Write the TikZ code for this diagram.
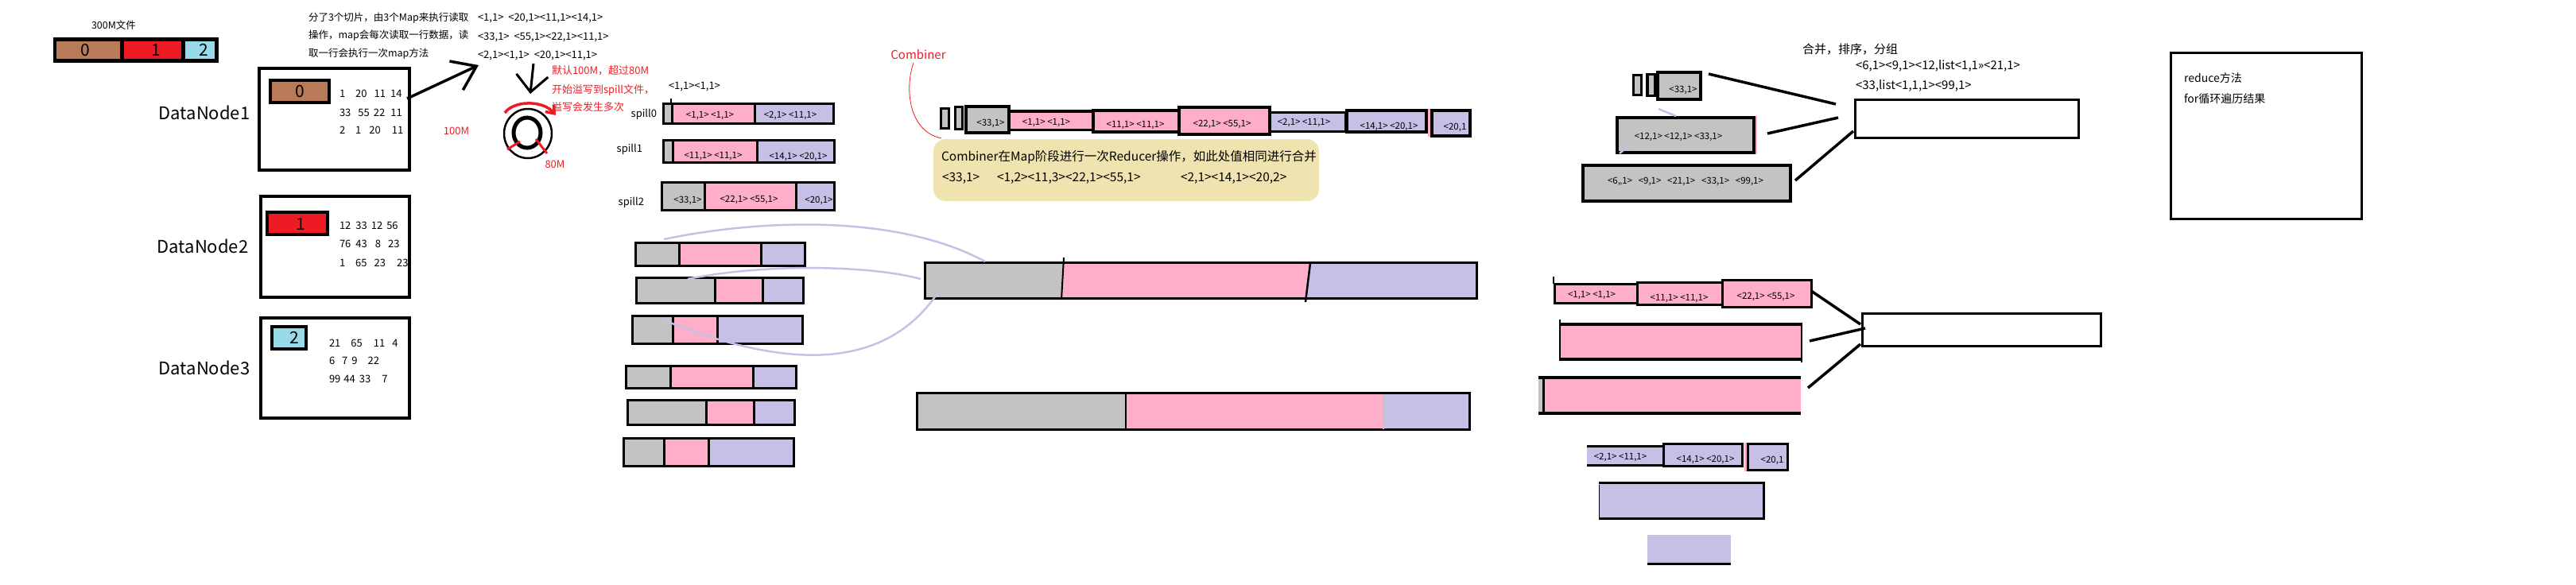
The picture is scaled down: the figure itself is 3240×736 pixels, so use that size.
\documentclass[tikz,border=0pt]{standalone}
\usepackage{fontspec}
\setmainfont{Noto Sans CJK SC}
\usetikzlibrary{fit,arrows.meta}
\definecolor{pbrown}{RGB}{185,122,87}
\definecolor{pred}{RGB}{237,28,36}
\definecolor{pblue}{RGB}{153,217,234}
\definecolor{pgray}{RGB}{195,195,195}
\definecolor{ppink}{RGB}{255,174,201}
\definecolor{plav}{RGB}{200,191,231}
\definecolor{ptan}{RGB}{239,228,176}
\tikzset{
 fs/.style={font=\fontsize{#1pt}{#1pt}\selectfont, inner sep=0pt, outer sep=0pt},
 plain/.style={inner sep=0pt, outer sep=0pt},
 cellbox/.style={draw=black, line width=3pt, inner sep=0pt, outer sep=0pt},
 dnbox/.style={draw=black, line width=4.5pt, inner sep=0pt, outer sep=0pt},
 lavcurve/.style={draw=plav, line width=2.5pt},
 link/.style={draw=black, line width=3.5pt},
 kvt/.style={fs=11.5},
}
\newcommand\cell[7][]{\node[cellbox, fill=#7, fit={(#3,#4) (#5,#6)}, #1] (#2) {};}
\newcommand\area[6]{\node[plain, fill=#6, fit={(#2,#3) (#4,#5)}] (#1) {};}
\begin{document}
\begin{tikzpicture}[x=1pt, y=-1pt]
\useasboundingbox (0,0) rectangle (3240,736);

% ---------- file ----------
\node[fs=12.5] (filelbl) at (143,32) {300M文件};
\area{filebar}{67}{47}{275}{79}{black}
\area{fb0}{71}{52}{151}{74}{pbrown}
\area{fb1}{156}{52}{228}{74}{pred}
\area{fb2}{233}{52}{270}{74}{pblue}
\node[fs=21] (fd0) at (107,63) {0};
\node[fs=21] (fd1) at (196,63) {1};
\node[fs=21] (fd2) at (256,63) {2};

% ---------- intro text ----------
\node[fs=12.5, anchor=west] (intro1) at (388,23) {分了3个切片，由3个Map来执行读取};
\node[fs=12.5, anchor=west] (intro2) at (388,45) {操作，map会每次读取一行数据，读};
\node[fs=12.5, anchor=west] (intro3) at (388,68) {取一行会执行一次map方法};
\node[fs=13, anchor=west] (kv1) at (601,23) {<1,1>\ \ <20,1><11,1><14,1>};
\node[fs=13, anchor=west] (kv2) at (601,47) {<33,1>\ \ <55,1><22,1><11,1>};
\node[fs=13, anchor=west] (kv3) at (601,70) {<2,1><1,1>\ \ <20,1><11,1>};

% ---------- DataNodes ----------
\node[dnbox, fit={(326,86) (515,214)}] (dn1) {};
\cell[line width=4pt]{c0}{340}{101}{414}{129}{pbrown}
\node[fs=21] (c0t) at (377,115) {0};
\node[fs=13, anchor=west] (n11) at (427,118) {1\hspace{13pt}20\hspace{9pt}11\hspace{6pt}14};
\node[fs=13, anchor=west] (n12) at (427,142) {33\hspace{9pt}55\hspace{5pt}22\hspace{7pt}11};
\node[fs=13, anchor=west] (n13) at (427,164) {2\hspace{13pt}1\hspace{10pt}20\hspace{14pt}11};
\node[fs=22] (dnl1) at (257,142) {DataNode1};

\node[dnbox, fit={(328,247) (515,374)}] (dn2) {};
\cell[line width=4pt]{c1}{336}{267}{412}{295}{pred}
\node[fs=21] (c1t) at (378,282) {1};
\node[fs=13, anchor=west] (n21) at (427,284) {12\hspace{6pt}33\hspace{5pt}12\hspace{5pt}56};
\node[fs=13, anchor=west] (n22) at (427,307) {76\hspace{6pt}43\hspace{10pt}8\hspace{9pt}23};
\node[fs=13, anchor=west] (n23) at (427,331) {1\hspace{13pt}65\hspace{9pt}23\hspace{14pt}23};
\node[fs=22] (dnl2) at (255,310) {DataNode2};

\node[dnbox, fit={(328,400) (515,526)}] (dn3) {};
\cell[line width=4pt]{c2}{342}{411}{385}{439}{pblue}
\node[fs=21] (c2t) at (370,425) {2};
\node[fs=13, anchor=west] (n31) at (414,432) {21\hspace{13pt}65\hspace{14pt}11\hspace{9pt}4};
\node[fs=13, anchor=west] (n32) at (414,454) {6\hspace{9pt}7\hspace{5pt}9\hspace{13pt}22};
\node[fs=13, anchor=west] (n33) at (414,477) {99\hspace{4pt}44\hspace{5pt}33\hspace{14pt}7};
\node[fs=22] (dnl3) at (257,463) {DataNode3};

% arrow from DataNode1 to key/value text
\coordinate (a1s) at (512,124);
\coordinate (a1e) at (602,82);
\draw[line width=3.5pt, -{Straight Barb[length=28pt, width=40pt]}] (a1s) -- (a1e);

% ---------- ring buffer ----------
\coordinate (a2s) at (671,80);
\coordinate (a2e) at (667,118);
\draw[line width=3pt, -{Straight Barb[length=21pt, width=40pt]}] (a2s) -- (a2e);
\draw[line width=2.5pt] (664,168) ellipse [x radius=30pt, y radius=31pt];
\draw[line width=5pt] (663,167) ellipse [x radius=17pt, y radius=19pt];
\draw[pred, line width=3.5pt, -{Straight Barb[length=9pt, width=14pt]}] (635,142) .. controls (645,127) and (682,125) .. (699,145);
\draw[pred, line width=3pt] (638,188) -- (654,178);
\draw[pred, line width=3pt] (674,175) -- (688,193);
\node[fs=13, text=pred] (m100) at (574,165) {100M};
\node[fs=13, text=pred] (m80) at (698,207) {80M};
\node[fs=13, text=pred, anchor=west] (r1) at (694,89) {默认100M，超过80M};
\node[fs=13, text=pred, anchor=west] (r2) at (694,113) {开始溢写到spill文件，};
\node[fs=13, text=pred, anchor=west] (r3) at (694,135) {溢写会发生多次};

% ---------- spill files ----------
\node[fs=13, anchor=west] (sp0top) at (841,109) {<1,1><1,1>};
\cell{sp0g}{834.5}{130.5}{845}{155.5}{pgray}
\cell{sp0p}{845}{130.5}{949.5}{155.5}{ppink}
\cell{sp0l}{949.5}{130.5}{1048.5}{155.5}{plav}
\draw[line width=2.5pt] (844,124) -- (844,131);
\node[kvt] (sp0a) at (893,145) {<1,1> <1,1>};
\node[kvt] (sp0b) at (994,145) {<2,1> <11,1>};
\node[fs=13, anchor=east] (spl0) at (826,144) {spill0};

\cell{sp1g}{834.5}{176.5}{846.5}{204.5}{pgray}
\cell{sp1p}{846.5}{176.5}{952}{204.5}{ppink}
\cell{sp1l}{952}{176.5}{1049.5}{204.5}{plav}
\node[kvt] (sp1a) at (897,196) {<11,1> <11,1>};
\node[kvt] (sp1b) at (1004,197) {<14,1> <20,1>};
\node[fs=13, anchor=east] (spl1) at (808,188) {spill1};

\cell{sp2g}{832.5}{229.5}{886}{264.5}{pgray}
\cell{sp2p}{886}{229.5}{1001}{264.5}{ppink}
\cell{sp2l}{1001}{229.5}{1049.5}{264.5}{plav}
\node[kvt] (sp2a) at (865,252) {<33,1>};
\node[kvt] (sp2b) at (942,251) {<22,1> <55,1>};
\node[kvt] (sp2c) at (1030,252) {<20,1>};
\node[fs=13, anchor=east] (spl2) at (810,255) {spill2};

% ---------- partitioned bars ----------
\cell{ag}{799}{305.5}{854}{334.5}{pgray}
\cell{ap}{854}{305.5}{957.5}{334.5}{ppink}
\cell{al}{957.5}{305.5}{1012}{334.5}{plav}
\cell{bg}{800.5}{349.5}{899}{381.5}{pgray}
\cell{bp}{899}{349.5}{959.5}{381.5}{ppink}
\cell{bl}{959.5}{349.5}{1010.5}{381.5}{plav}
\cell{cg}{795.5}{397.5}{846}{432.5}{pgray}
\cell{cp}{846}{397.5}{902.5}{432.5}{ppink}
\cell{cl}{902.5}{397.5}{1009.5}{432.5}{plav}
\cell{dg}{787.5}{460.5}{843}{488.5}{pgray}
\cell{dp}{843}{460.5}{947}{488.5}{ppink}
\cell{dl}{947}{460.5}{1001}{488.5}{plav}
\cell{eg}{789.5}{503.5}{888}{534.5}{pgray}
\cell{ep}{888}{503.5}{948.5}{534.5}{ppink}
\cell{el}{948.5}{503.5}{999.5}{534.5}{plav}
\cell{fg}{784.5}{551.5}{835}{586.5}{pgray}
\cell{fp}{835}{551.5}{891}{586.5}{ppink}
\cell{fl}{891}{551.5}{998}{586.5}{plav}

% ---------- merged bars ----------
\fill[pgray] (1162,329) -- (1338,329) -- (1335,377) -- (1162,377) -- cycle;
\fill[ppink] (1338,329) -- (1648,329) -- (1643,377) -- (1335,377) -- cycle;
\fill[plav] (1648,329) -- (1859,329) -- (1859,377) -- (1643,377) -- cycle;
\node[plain, draw=black, line width=3pt, fit={(1163.5,330.5) (1857.5,375.5)}] (big1) {};
\draw[line width=2pt] (1338,324) -- (1335,377);
\draw[line width=2.5pt] (1648,331) -- (1642,380);

\area{big2g}{1152}{493}{1416}{542}{pgray}
\area{big2p}{1416}{493}{1740}{542}{ppink}
\area{big2l}{1740}{493}{1850}{542}{plav}
\node[plain, draw=black, line width=3pt, fit={(1153.5,494.5) (1848.5,540.5)}] (big2) {};
\draw[line width=2.5pt] (1416,494) -- (1416,541);
\draw[pgray, line width=1.5pt] (1740,496) -- (1740,540);

% lavender curves
\coordinate (cv1s) at (835,301);  \coordinate (cv1e) at (1239,329);
\coordinate (cv2s) at (865,351);  \coordinate (cv2e) at (1158,351);
\coordinate (cv3s) at (833,402);  \coordinate (cv3e) at (1181,366);
\draw[lavcurve] (cv1s) .. controls (960,275) and (1130,270) .. (cv1e);
\draw[lavcurve] (cv2s) .. controls (970,330) and (1100,335) .. (cv2e);
\draw[lavcurve] (cv3s) .. controls (940,445) and (1100,490) .. (cv3e);

% ---------- combiner row ----------
\node[fs=15, text=pred] (comb) at (1155,69) {Combiner};
\coordinate (cbs) at (1149,79);
\coordinate (cbe) at (1184,174);
\draw[pred, line width=0.8pt] (cbs) .. controls (1138,110) and (1142,165) .. (cbe);

\cell[line width=3.5pt]{s1}{1183.5}{136.5}{1193.5}{161.5}{pgray}
\cell[line width=3.5pt]{s2}{1201.5}{134.5}{1210.5}{162.5}{pgray}
\cell[line width=4pt]{g33}{1215}{134}{1269}{167}{pgray}
\cell[line width=3.5pt]{p1}{1269}{140}{1374.5}{163.5}{ppink}
\cell[line width=4pt]{p2}{1374.5}{139}{1482.5}{166}{ppink}
\cell[line width=4pt]{p3}{1482.5}{135}{1597}{169}{ppink}
\cell[line width=3.5pt]{l1}{1597}{141.5}{1693}{165.5}{plav}
\cell[line width=4pt]{l2}{1694}{139}{1794}{166}{plav}
\area{lsl}{1796}{137}{1799}{172}{ppink}
\cell[line width=4pt]{l3}{1801}{139}{1849}{171}{plav}
\node[kvt] (g33t) at (1246,155) {<33,1>};
\node[kvt] (p1t) at (1316,154) {<1,1> <1,1>};
\node[kvt] (p2t) at (1428,157) {<11,1> <11,1>};
\node[kvt] (p3t) at (1537,156) {<22,1> <55,1>};
\node[kvt] (l1t) at (1640,154) {<2,1> <11,1>};
\node[kvt] (l2t) at (1747,159) {<14,1> <20,1>};
\node[kvt] (l3t) at (1830,160) {<20,1};

\node[plain, fill=ptan, rounded corners=15pt, fit={(1174,175) (1659,253)}] (tan) {};
\node[fs=15.5, anchor=west] (cb1) at (1184,198) {Combiner在Map阶段进行一次Reducer操作，如此处值相同进行合并};
\node[fs=15.5, anchor=west] (cb2a) at (1185,224) {<33,1>};
\node[fs=15.5, anchor=west] (cb2b) at (1254,224) {<1,2><11,3><22,1><55,1>};
\node[fs=15.5, anchor=west] (cb2c) at (1485,224) {<2,1><14,1><20,2>};

% ---------- gray group to reducer ----------
\cell[line width=3.5pt]{r1b}{2054.5}{94.5}{2064.5}{119.5}{pgray}
\cell[line width=3.5pt]{r2b}{2072}{93.5}{2081.5}{120.5}{pgray}
\cell[line width=4pt]{r3b}{2085}{91}{2139}{125}{pgray}
\node[kvt] (r3t) at (2117,113) {<33,1>};
\area{r4s}{2205}{146}{2210}{194}{ppink}
\cell[line width=3.5pt]{r4b}{2034}{148}{2206}{192}{pgray}
\node[kvt] (r4t) at (2111,172) {<12,1> <12,1> <33,1>};
\cell[line width=4pt]{r5b}{1991}{208}{2252}{253}{pgray}
\node[kvt] (r5t) at (2120,228) {<6,,1>\ \ \ <9,1>\ \ \ <21,1>\ \ \ <33,1>\ \ \ <99,1>};
\draw[lavcurve] (2086,137) -- (2108,146);
\draw[lavcurve] (2037,193) -- (2049,183);

\node[plain, draw=black, line width=3pt, fit={(2333.5,125.5) (2614.5,173.5)}] (rbox1) {};
\coordinate (g1a) at (2149,93);  \coordinate (g1b) at (2309,131);
\coordinate (g2a) at (2223,168); \coordinate (g2b) at (2312,148);
\coordinate (g3a) at (2258,227); \coordinate (g3b) at (2331,165);
\draw[link] (g1a) -- (g1b);
\draw[link] (g2a) -- (g2b);
\draw[link] (g3a) -- (g3b);
\node[fs=15, anchor=west] (mg) at (2267,62) {合并，排序，分组};
\node[fs=15, anchor=west] (mg1) at (2334,83) {<6,1><9,1><12,list<1,1>><21,1>};
\node[fs=15, anchor=west] (mg2) at (2334,108) {<33,list<1,1,1><99,1>};

% ---------- reduce box ----------
\node[plain, draw=black, line width=3pt, fit={(2730.5,66.5) (2970.5,275.5)}] (redbox) {};
\node[fs=14, anchor=west] (red1) at (2747,98) {reduce方法};
\node[fs=14, anchor=west] (red2) at (2747,124) {for循环遍历结果};

% ---------- pink group ----------
\cell{q1}{1955.5}{357.5}{2059}{381.5}{ppink}
\cell{q2}{2059}{355.5}{2166}{383.5}{ppink}
\cell{q3}{2166}{352.5}{2278.5}{386.5}{ppink}
\draw[line width=1.5pt] (1954,348) -- (1954,357);
\node[kvt] (q1t) at (2002,371) {<1,1> <1,1>};
\node[kvt] (q2t) at (2112,375) {<11,1> <11,1>};
\node[kvt] (q3t) at (2221,373) {<22,1> <55,1>};

\area{qa}{1961}{406}{2267}{454}{ppink}
\draw[line width=4pt] (1961,408) -- (2267,408);
\draw[line width=4pt] (1961,452) -- (2267,452);
\draw[line width=1.5pt] (1962,402) -- (1962,454);
\draw[line width=1.5pt] (2266,408) -- (2266,456);

\area{qbs}{1935}{473}{1940}{522}{pgray}
\area{qb}{1940}{473}{2265}{522}{ppink}
\draw[line width=3.5pt] (1935,475) -- (2265,475);
\draw[line width=3.5pt] (1935,520) -- (2265,520);
\draw[line width=3pt] (1941,473) -- (1941,522);

\node[plain, draw=black, line width=3pt, fit={(2342.5,394.5) (2642.5,435.5)}] (pbox) {};
\coordinate (h1a) at (2278,366); \coordinate (h1b) at (2340,408);
\coordinate (h2a) at (2276,429); \coordinate (h2b) at (2346,413);
\coordinate (h3a) at (2274,488); \coordinate (h3b) at (2340,433);
\draw[link] (h1a) -- (h1b);
\draw[link] (h2a) -- (h2b);
\draw[link] (h3a) -- (h3b);

% ---------- lavender group ----------
\area{v1}{1996}{560}{2092}{587}{plav}
\draw[line width=3pt] (1996,561.5) -- (2092,561.5);
\draw[line width=3pt] (1996,585.5) -- (2092,585.5);
\cell{v2}{2092}{558.5}{2191}{586.5}{plav}
\area{vsl}{2194}{557}{2197}{593}{ppink}
\cell{v3}{2198.5}{558.5}{2248.5}{591.5}{plav}
\node[kvt] (v1t) at (2038,575) {<2,1> <11,1>};
\node[kvt] (v2t) at (2145,578) {<14,1> <20,1>};
\node[kvt] (v3t) at (2229,579) {<20,1};

\area{vb}{2011}{606}{2220}{654}{plav}
\draw[line width=3pt] (2011,607.5) -- (2220,607.5);
\draw[line width=3pt] (2011,652.5) -- (2220,652.5);
\draw[line width=3pt] (2218.5,606) -- (2218.5,654);
\draw[line width=1pt] (2011,610) -- (2011,652);

\area{vc}{2072}{673}{2177}{711}{plav}
\draw[line width=3pt] (2072,709.5) -- (2177,709.5);

\end{tikzpicture}
\end{document}
